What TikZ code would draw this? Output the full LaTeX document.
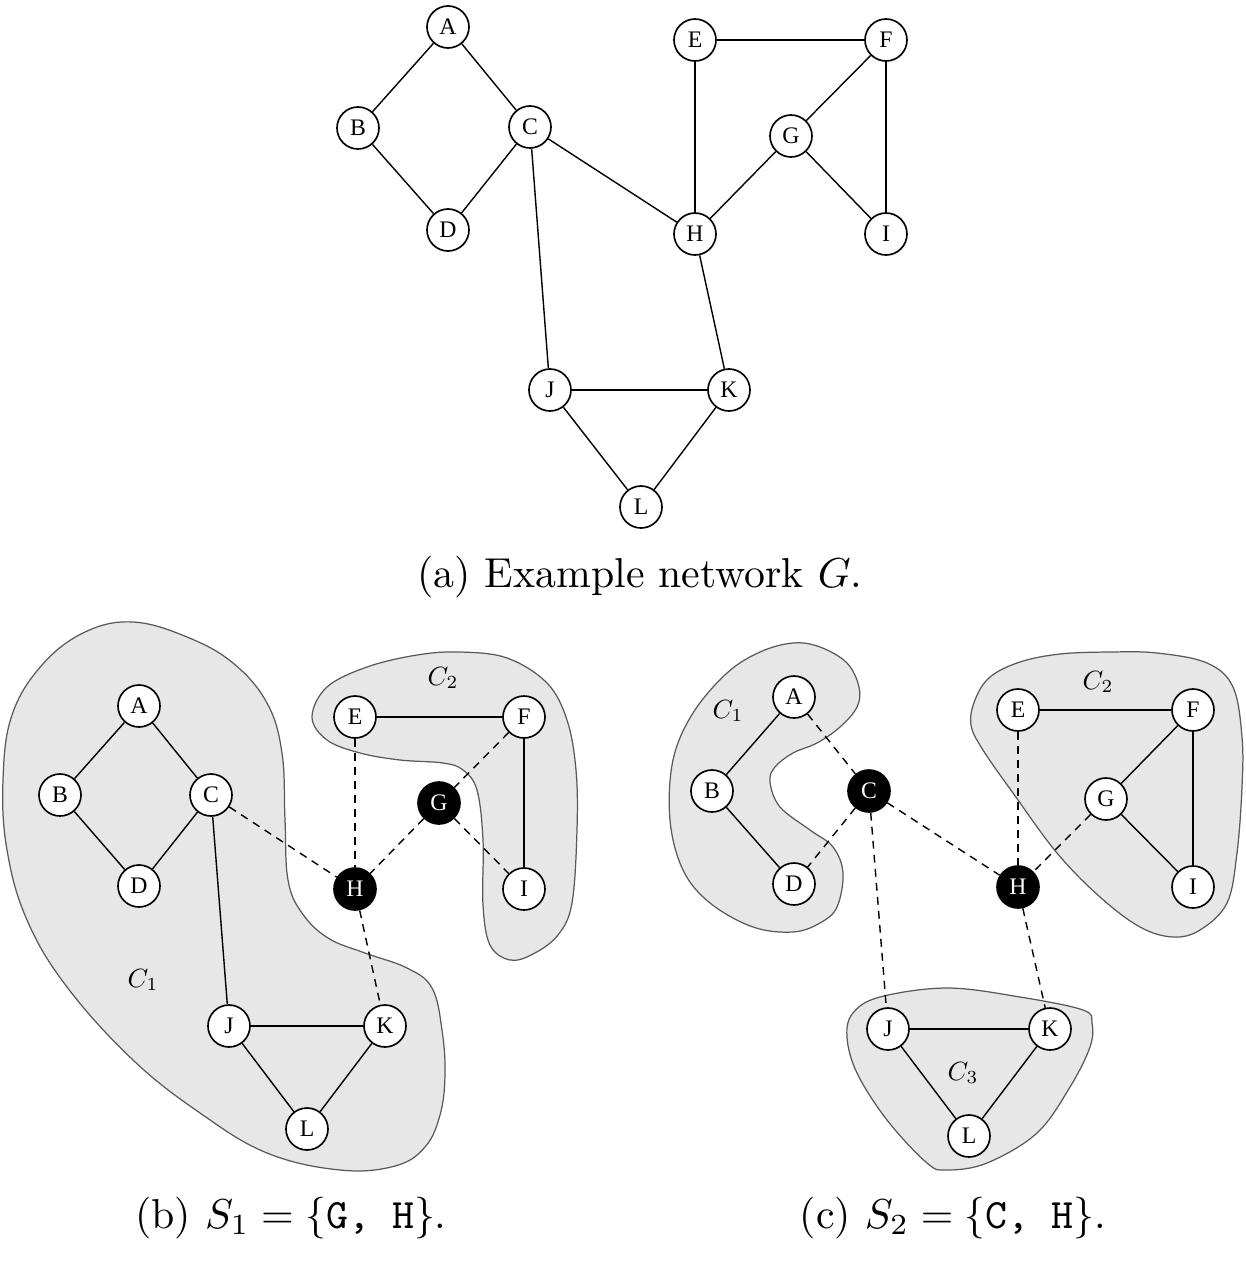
\documentclass[tikz,border=0pt]{standalone}
\usepackage{amsmath,amssymb}
\usepackage{fontspec}
\newfontfamily\vlabel{Liberation Serif}
\usepackage{tikz}
\usetikzlibrary{positioning}

\definecolor{blobfill}{gray}{0.905}
\definecolor{blobline}{gray}{0.35}

\begin{document}
\begin{tikzpicture}[x=0.02cm, y=-0.02cm,
 vtx/.style={draw,circle,line width=.95pt,fill=white,minimum size=8.4mm,inner sep=0pt,font=\vlabel\fontsize{13.5}{14}\selectfont},
 sep/.style={vtx,fill=black,text=white},
 edge/.style={line width=.8pt},
 cut/.style={line width=.8pt,dash pattern=on 4.5pt off 3.5pt},
 blob/.style={fill=blobfill,draw=blobline,line width=.7pt},
 subcap/.style={scale=2.38,inner sep=0pt},
 comp/.style={scale=1.5,inner sep=0pt}]
\useasboundingbox (0,0) rectangle (1246,1262);

% (a) the network G
\node[vtx] (aA) at (448,27) {A};
\node[vtx] (aB) at (358,128) {B};
\node[vtx] (aC) at (530,127) {C};
\node[vtx] (aD) at (448,230) {D};
\node[vtx] (aE) at (695,40) {E};
\node[vtx] (aF) at (886,40) {F};
\node[vtx] (aG) at (791,136) {G};
\node[vtx] (aH) at (695,234) {H};
\node[vtx] (aI) at (886,234) {I};
\node[vtx] (aJ) at (550,390) {J};
\node[vtx] (aK) at (729,390) {K};
\node[vtx] (aL) at (641,507) {L};
\foreach \u/\v in {A/B,A/C,B/D,C/D,C/H,C/J,E/F,E/H,F/G,F/I,G/H,G/I,H/K,J/K,J/L,K/L}
 \draw[edge] (a\u) -- (a\v);
\node[subcap] (capa) at (640,577) {(a) Example network $G$.};

% (b) separator {G, H}
\draw[blob] plot[smooth cycle,tension=.65] coordinates {(133,622) (187,637) (233,663) (267,703) (282,753)
 (285,820) (288,880) (302,913) (328,938) (365,953) (407,968) (432,988) (442,1030) (445,1075)
 (440,1115) (425,1147) (395,1166) (340,1170) (267,1153) (200,1113) (133,1060) (67,987) (27,920)
 (7,850) (3,780) (12,715) (42,665) (85,632)};
\draw[blob] plot[smooth cycle,tension=.6] coordinates {(312,717) (327,687) (367,667) (417,655) (460,652)
 (507,658) (547,683) (567,720) (576,770) (577,830) (572,903) (558,935) (533,954) (510,960) (490,945)
 (483,905) (483,840) (477,790) (463,770) (443,763) (400,760) (360,753) (327,740)};
\node[comp] (bC1) at (143,980) {$C_1$};
\node[comp] (bC2) at (443,678) {$C_2$};
\node[vtx] (bA) at (139,706) {A};
\node[vtx] (bB) at (60,795) {B};
\node[vtx] (bC) at (211,795) {C};
\node[vtx] (bD) at (139,886) {D};
\node[vtx] (bE) at (355,717) {E};
\node[vtx] (bF) at (524,717) {F};
\node[sep] (bG) at (439,803) {G};
\node[sep] (bH) at (355,889) {H};
\node[vtx] (bI) at (524,889) {I};
\node[vtx] (bJ) at (229,1026) {J};
\node[vtx] (bK) at (385,1026) {K};
\node[vtx] (bL) at (307,1129) {L};
\foreach \u/\v in {A/B,A/C,B/D,C/D,C/J,E/F,F/I,J/K,J/L,K/L}
 \draw[edge] (b\u) -- (b\v);
\foreach \u/\v in {C/H,E/H,G/H,F/G,G/I,H/K}
 \draw[cut] (b\u) -- (b\v);
\node[subcap] (capb) at (291,1218) {(b) $S_1=\{\texttt{G, H}\}$.};

% (c) separator {C, H}
\draw[blob] plot[smooth cycle,tension=.6] coordinates {(793,643) (820,647) (847,663) (859,687) (857,707)
 (840,727) (817,743) (793,753) (775,767) (770,782) (780,807) (810,830) (833,847) (843,873) (837,907)
 (820,923) (793,932) (753,927) (710,903) (683,870) (670,820) (673,760) (693,713) (727,673) (760,652)};
\draw[blob] plot[smooth cycle,tension=.6] coordinates {(990,677) (1020,662) (1060,654) (1110,652)
 (1157,653) (1207,663) (1233,687) (1242,737) (1242,787) (1237,853) (1227,903) (1200,930) (1173,937)
 (1140,927) (1100,897) (1057,853) (1013,793) (983,750) (971,725) (975,700)};
\draw[blob] plot[smooth cycle,tension=.6] coordinates {(847,1037) (853,1013) (880,997) (947,988)
 (1020,997) (1083,1010) (1092,1023) (1090,1047) (1070,1087) (1037,1133) (987,1163) (947,1170)
 (927,1163) (887,1120) (857,1073)};
\node[comp] (cC1) at (728,711) {$C_1$};
\node[comp] (cC2) at (1098,682) {$C_2$};
\node[comp] (cC3) at (963,1073) {$C_3$};
\node[vtx] (cA) at (794,697) {A};
\node[vtx] (cB) at (712,791) {B};
\node[sep] (cC) at (869,791) {C};
\node[vtx] (cD) at (794,884) {D};
\node[vtx] (cE) at (1018,710) {E};
\node[vtx] (cF) at (1193,710) {F};
\node[vtx] (cG) at (1106,799) {G};
\node[sep] (cH) at (1018,887) {H};
\node[vtx] (cI) at (1193,887) {I};
\node[vtx] (cJ) at (888,1029) {J};
\node[vtx] (cK) at (1050,1029) {K};
\node[vtx] (cL) at (969,1136) {L};
\foreach \u/\v in {A/B,B/D,E/F,F/G,F/I,G/I,J/K,J/L,K/L}
 \draw[edge] (c\u) -- (c\v);
\foreach \u/\v in {A/C,C/D,C/J,C/H,E/H,G/H,H/K}
 \draw[cut] (c\u) -- (c\v);
\node[subcap] (capc) at (953,1218) {(c) $S_2=\{\texttt{C, H}\}$.};
\end{tikzpicture}
\end{document}
